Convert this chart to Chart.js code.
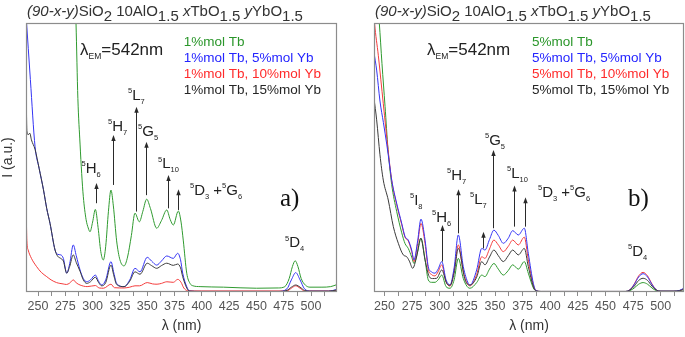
<!DOCTYPE html>
<html>
<head>
<meta charset="utf-8">
<script src="https://cdn.jsdelivr.net/npm/chart.js@4.4.1/dist/chart.umd.min.js"></script>
<style>
  html, body { margin: 0; padding: 0; background: #fff; }
  #wrap { position: relative; width: 685px; height: 337px; overflow: hidden; }
  #wrap canvas { position: absolute; top: 0; }
</style>
</head>
<body>
<div id="wrap">
  <canvas id="chartA" width="345" height="337" style="left:0;width:345px;height:337px"></canvas>
  <canvas id="chartB" width="340" height="337" style="left:345px;width:340px;height:337px"></canvas>
</div>
<script>
// --- DATA ---
const xTickLabels = [250, 275, 300, 325, 350, 375, 400, 425, 450, 475, 500];

const seriesA = ['1%mol Tb', '1%mol Tb, 5%mol Yb', '1%mol Tb, 10%mol Yb', '1%mol Tb, 15%mol Yb'];
const seriesB = ['5%mol Tb', '5%mol Tb, 5%mol Yb', '5%mol Tb, 10%mol Yb', '5%mol Tb, 15%mol Yb'];

// panel a) 1%mol Tb
const aGreenNm = [283, 284.8, 286.5, 288.5, 290, 291.5, 294, 296, 297.6, 300, 302.5, 305, 307.5, 309.8, 312, 314.5, 316.8, 319, 322, 325, 328.8, 332, 335.5, 338.8, 342.8, 346, 349.5, 353, 358.7, 363, 367.9, 371, 373.9, 378.5, 381, 383, 386.2, 389.2, 392, 398.4, 420, 450, 470, 476, 480, 483, 485.5, 488, 491, 495, 499, 510, 518, 524];
const aGreenI = [125, 100, 72, 55, 44, 35.4, 27, 23.8, 22.4, 26, 30.7, 24, 15, 11.9, 17, 30, 37.9, 32, 19, 12, 9.7, 13, 21, 29.3, 26.1, 30, 34.5, 31, 23.7, 26.5, 30.5, 27, 24.9, 30.1, 26, 19.3, 7, 3.2, 2.3, 2.0, 1.8, 1.4, 1.5, 2.0, 5, 9.5, 11.6, 9.5, 5, 2.5, 1.8, 1.8, 2, 2.8];

const aBlueNm = [239.2, 243, 247.3, 251, 255, 258, 261, 265.6, 268, 270.8, 273.2, 276.3, 279, 282.3, 285, 288.5, 291.5, 294.6, 298, 302.5, 305.5, 308.3, 312, 316.8, 319.5, 322, 328.8, 334, 338.8, 343.4, 350, 354, 358.7, 363, 367.9, 373.9, 377.9, 380.5, 382.5, 386.2, 389, 400, 470, 478, 482, 486, 490, 494, 500, 516, 524];
const aBlueI = [102, 79, 54, 46, 38, 31, 25.5, 15.6, 14, 13.8, 12.5, 7.0, 10.5, 17.5, 13.5, 8.2, 5, 3.8, 4.5, 6.3, 4, 2.6, 4.5, 11.3, 7, 3.2, 2.0, 4.5, 8.8, 7.5, 12.9, 11.5, 10, 11.5, 13.4, 12.5, 14.4, 12, 7, 2, 0.3, 0.2, 0.2, 1.2, 4.5, 7.2, 4.5, 1.2, 0.3, 0.3, 1.0];

const aRedNm = [239.2, 239.8, 241, 244, 248.8, 253, 258, 262, 267, 270, 273, 276, 279, 282.3, 285, 288.5, 295, 302.5, 306, 310, 316.8, 320, 328.8, 334, 338.8, 343, 350, 355, 359, 363, 368, 373.9, 378, 381, 383.5, 387, 400, 478, 482, 486, 490, 494, 516, 524];
const aRedI = [30, 19, 15.6, 12.5, 9.4, 7.3, 5.7, 4.5, 3.5, 3.2, 3, 2.8, 3.3, 4.5, 3.4, 2.6, 2, 2.4, 1.5, 1.4, 2.9, 1.6, 1.5, 1.8, 2.3, 2.3, 3.5, 3, 2.9, 3.2, 3.8, 3.6, 4.7, 3.6, 1.5, 0.5, 0.4, 0.4, 1.4, 2.3, 1.4, 0.4, 0.4, 0.6];

const aBlackNm = [239.2, 239.8, 241, 242.5, 244, 247.3, 251, 255, 258, 261, 265.6, 268, 270.8, 273.2, 276.3, 279, 282.3, 285, 288.5, 291.5, 294.6, 298, 302.5, 305.5, 308.3, 312, 316.8, 319.5, 322, 328.8, 334, 338.8, 343.4, 350, 354, 358.7, 363, 367.9, 373.9, 377.9, 380.5, 382.5, 386.2, 389, 400, 470, 478, 482, 486, 490, 494, 500, 516, 524];
const aBlackI = [73, 60, 58.5, 59, 56.5, 53, 46, 38, 31, 25.5, 15.6, 13.3, 12.5, 11.5, 7.0, 9.5, 13.8, 11, 7.7, 4.5, 3.2, 3.8, 5.5, 3.5, 2.3, 3.5, 10, 6, 2.8, 2.0, 4, 7.5, 6.6, 10.7, 9.8, 8.8, 9.8, 10.7, 9.9, 10.4, 9, 5.7, 1.5, 0.3, 0.2, 0.2, 0.6, 1.8, 2.6, 1.8, 0.6, 0.3, 0.3, 0.8];

// panel b) 5%mol Tb
const bGreenNm = [244.5, 245.3, 247.7, 250.5, 253.2, 256.5, 261, 265.6, 268.6, 271.5, 274.6, 276.7, 280, 283, 286.7, 289.6, 292.5, 295.7, 298.5, 301.8, 305.7, 309.3, 313, 316.8, 321.3, 325.8, 327.4, 333.4, 338, 340.9, 345, 349, 353, 357.5, 362, 366, 371.1, 376.5, 380.1, 384.7, 387.1, 392, 468, 472, 476, 480, 484, 488, 492, 496, 500, 512, 517, 521];
const bGreenI = [104, 100, 85, 69, 53, 40, 30, 22, 18, 16.2, 13, 10.6, 15, 20, 12, 4.5, 3.6, 3.6, 4.5, 6.3, 2, 1.4, 4.5, 12.5, 5, 1.6, 1.4, 3.5, 6.3, 5.7, 8.5, 10.6, 8.5, 6.3, 8, 10.1, 8.5, 11.3, 7, 1.5, 0.4, 0.2, 0.2, 0.5, 1.5, 2.9, 3.5, 2.9, 1.5, 0.5, 0.3, 0.3, 0.5, 1];

const bBlueNm = [240.5, 242.9, 245.9, 249, 252, 255, 256.5, 261, 265.6, 268.6, 271.5, 274.6, 276.7, 280, 283, 286.7, 289.6, 292.5, 295.7, 298.5, 301.8, 305.7, 309.3, 313, 316.8, 321.3, 325.8, 327.4, 333.4, 338, 340.9, 345, 349, 353, 357.5, 362, 366, 371.1, 376.5, 380.1, 384.7, 387.1, 392, 468, 472, 476, 480, 484, 488, 492, 496, 500, 512, 517, 521];
const bBlueI = [89, 82.5, 71, 63, 55, 46.1, 41.6, 33, 25.5, 20.6, 19.3, 15.6, 11.9, 19, 27.1, 19.3, 9.4, 7.5, 7, 8.5, 11.3, 4.5, 2.6, 9, 21.2, 9.4, 3.2, 2.6, 8.2, 16.2, 15.6, 19.5, 23, 21, 18.1, 20, 22.8, 21.2, 23.7, 14.4, 3.2, 0.5, 0.2, 0.2, 0.8, 2.8, 5.6, 6.8, 5.6, 2.8, 0.8, 0.3, 0.3, 0.6, 1.5];

const bRedNm = [240.5, 241, 244.4, 248.9, 253.2, 256.5, 261, 265.6, 268.6, 271.5, 274.6, 276.7, 280, 283, 286.7, 289.6, 292.5, 295.7, 298.5, 301.8, 305.7, 309.3, 313, 316.8, 321.3, 325.8, 327.4, 333.4, 338, 340.9, 345, 349, 353, 357.5, 362, 366, 371.1, 376.5, 380.1, 384.7, 387.1, 392, 468, 472, 476, 480, 484, 488, 492, 496, 500, 512, 517, 521];
const bRedI = [103, 100, 88, 70, 53, 41.6, 32.5, 25, 20.3, 19, 15, 11.3, 18, 25.5, 18, 8.5, 6.5, 6, 7.5, 10.1, 3.8, 2.2, 8, 17.5, 7.5, 2.6, 2.3, 6.5, 13.1, 12.5, 16, 19.3, 17.5, 15, 17, 19.3, 17.5, 20.4, 12, 2.5, 0.5, 0.2, 0.2, 0.8, 3, 6, 7.3, 6, 3, 0.8, 0.3, 0.3, 0.5, 1.2];

const bBlackNm = [240.5, 242.9, 245.9, 248.9, 253.4, 258, 262.5, 267, 270.1, 272.5, 275.5, 279, 282.8, 286.7, 290.5, 293.5, 297.2, 301.8, 306.3, 309.3, 313, 316.8, 322.9, 327.4, 333.4, 338, 340.9, 345, 349, 353, 357.5, 362, 366, 371.1, 376.5, 380.1, 384.7, 387.1, 392, 468, 472, 476, 480, 484, 488, 492, 496, 500, 512, 517, 521];
const bBlackI = [72, 64, 51, 41.6, 34.2, 24.3, 18.1, 13.8, 13.1, 11.5, 8.8, 13, 20, 11.9, 5.7, 5, 5.1, 8.2, 3.2, 2.5, 7, 16.2, 4.5, 2.6, 5.5, 11.3, 10.1, 13, 15.6, 13.5, 11.3, 13.5, 15.6, 13.8, 16.2, 9.5, 2, 0.4, 0.2, 0.2, 0.7, 2.2, 4.3, 5.1, 4.3, 2.2, 0.7, 0.3, 0.3, 0.5, 1];

// --- STYLE ---
const FONT = '"Liberation Sans", Arial, sans-serif';
const COLORS = ['#2f9a2f', '#3434f4', '#f43c3c', '#3a3a3a'];
const TEXT_COLORS = ['#2a962a', '#2424ff', '#ff2a2a', '#262626'];
const ORDER = [4, 2, 3, 1];   // black on top, green at the back

const TITLE = [['(90-x-y)', 'it'], ['SiO', ''], ['2', 'low'], [' 10AlO', ''], ['1.5', 'low'], [' ', ''], ['x', 'it'], ['TbO', ''], ['1.5', 'low'], [' ', ''], ['y', 'it'], ['YbO', ''], ['1.5', 'low']];
const LAMBDA = [['λ', ''], ['EM', 'sub'], ['=542nm', '']];

function lvl(sym, sub) { return [['5', 'sup'], [sym, ''], [sub, 'sub']]; }

// labels: [parts, nm, intensity]; arrows: [nm, from, to]
const labelsA = [
  [lvl('H', '6'), 289.8, 44.2], [lvl('H', '7'), 314.1, 59.9], [lvl('L', '7'), 332.4, 71.4],
  [lvl('G', '5'), 341.6, 58], [lvl('L', '10'), 359.9, 46],
  [lvl('D', '3').concat([[' +', '']], lvl('G', '6')), 389.2, 36], [lvl('D', '4'), 476.2, 16.6]
];
const arrowsA = [[303, 33, 40.5], [318.4, 39.8, 58.4], [339.5, 29.9, 68.9], [348.6, 36, 55.9], [368.8, 31.1, 43.5], [378.5, 30.5, 38.2]];

const labelsB = [
  [lvl('I', '8'), 273.1, 32.3], [lvl('H', '6'), 293, 26], [lvl('H', '7'), 306.6, 41.6],
  [lvl('L', '7'), 327.4, 32.7], [lvl('G', '5'), 340.9, 54.6], [lvl('L', '10'), 360.9, 42.3],
  [lvl('D', '3').concat([[' +', '']], lvl('G', '6')), 388.9, 35.3], [lvl('D', '4'), 470.3, 13.4]
];
const arrowsB = [[347.9, 23.7, 52.8], [301.8, 11.3, 24.9], [316.8, 21.8, 38.2], [339.4, 16.2, 22.4], [367.5, 24.3, 39.6], [377.1, 24.3, 35.2]];

function richText(ctx, x, y, parts, size, color) {
  let cx = x;
  ctx.fillStyle = color;
  ctx.textAlign = 'left';
  ctx.textBaseline = 'alphabetic';
  for (const [s, kind] of parts) {
    let fs = size, dy = 0, style = '';
    if (kind === 'sup') { fs = size * 0.5; dy = -size * 0.45; }
    else if (kind === 'sub') { fs = size * 0.5; dy = size * 0.25; }
    else if (kind === 'low') { dy = size * 0.33; }
    else if (kind === 'it') { style = 'italic '; }
    ctx.font = style + fs + 'px ' + FONT;
    ctx.fillText(s, cx, y + dy);
    cx += ctx.measureText(s).width;
  }
}

function drawArrow(ctx, px, y0, y1) {
  const x = Math.round(px) + 0.5;
  ctx.strokeStyle = '#2a2a2a';
  ctx.fillStyle = '#2a2a2a';
  ctx.lineWidth = 1;
  ctx.beginPath();
  ctx.moveTo(x, y0);
  ctx.lineTo(x, y1 + 4);
  ctx.stroke();
  ctx.beginPath();
  ctx.moveTo(x, y1);
  ctx.lineTo(x - 2.2, y1 + 6);
  ctx.lineTo(x + 2.2, y1 + 6);
  ctx.closePath();
  ctx.fill();
}

// frame, title, legend texts and transition labels
const panelPlugin = {
  id: 'panel',
  afterDraw(chart, args, opts) {
    const { ctx, chartArea: a, scales: { x, y } } = chart;
    ctx.save();
    ctx.strokeStyle = '#8c8c8c';
    ctx.lineWidth = 1.2;
    ctx.strokeRect(a.left + 0.5, a.top + 0.5, a.right - a.left - 1, a.bottom - a.top - 1);

    richText(ctx, a.left + 1, 16, TITLE, 15, '#333');
    richText(ctx, x.getPixelForValue(288.5), y.getPixelForValue(88.1), LAMBDA, 17, '#222');

    const legendY = [91.3, 85.5, 79.6, 73.6];
    chart.data.datasets.forEach((ds, i) => {
      ctx.font = '13.5px ' + FONT;
      ctx.fillStyle = TEXT_COLORS[i];
      ctx.textAlign = 'left';
      ctx.fillText(ds.label, x.getPixelForValue(383.5), y.getPixelForValue(legendY[i]));
    });

    opts.arrows.forEach(([nm, v0, v1]) => drawArrow(ctx, x.getPixelForValue(nm), y.getPixelForValue(v0), y.getPixelForValue(v1)));
    opts.labels.forEach(([parts, nm, v]) => richText(ctx, x.getPixelForValue(nm), y.getPixelForValue(v), parts, 15, '#222'));

    ctx.font = '25px "Liberation Serif", "Times New Roman", serif';
    ctx.fillStyle = '#111';
    ctx.fillText(opts.letter, x.getPixelForValue(opts.letterAt[0]), y.getPixelForValue(opts.letterAt[1]));
    ctx.restore();
  }
};

function makeChart(id, names, series, xMin, xMax, yWidth, padRight, panel, yTitle) {
  const datasets = series.map(([nm, inten], i) => ({
    label: names[i],
    data: nm.map((v, k) => ({ x: v, y: inten[k] })),
    borderColor: COLORS[i],
    borderWidth: 1,
    pointRadius: 0,
    fill: false,
    cubicInterpolationMode: 'monotone',
    order: ORDER[i]
  }));
  return new Chart(document.getElementById(id), {
    type: 'line',
    data: { datasets },
    plugins: [panelPlugin],
    options: {
      responsive: false,
      animation: false,
      devicePixelRatio: 1,
      layout: { padding: { left: 0, top: 23, right: padRight, bottom: 0 } },
      plugins: { legend: { display: false }, tooltip: { enabled: false }, panel },
      scales: {
        x: {
          type: 'linear', min: xMin, max: xMax,
          afterFit: (s) => { s.height = 45; },
          border: { display: false },
          grid: { drawOnChartArea: false, drawTicks: true, tickLength: 4, color: '#8c8c8c' },
          ticks: {
            stepSize: 12.5, includeBounds: false, autoSkip: false, maxRotation: 0, padding: 3,
            color: '#555', font: { family: FONT, size: 12.5 },
            callback: (v) => (xTickLabels.includes(v) ? String(v) : '')
          },
          title: { display: true, text: 'λ (nm)', color: '#333', font: { family: FONT, size: 14 }, padding: { top: 0, bottom: 2 } }
        },
        y: {
          min: 0, max: 100,
          afterFit: (s) => { s.width = yWidth; },
          border: { display: false },
          grid: { display: false },
          ticks: { display: false },
          title: { display: yTitle, text: 'I (a.u.)', color: '#333', font: { family: FONT, size: 14 }, padding: 0 }
        }
      }
    }
  });
}

makeChart('chartA', seriesA,
  [[aGreenNm, aGreenI], [aBlueNm, aBlueI], [aRedNm, aRedI], [aBlackNm, aBlackI]],
  239, 523.8, 26, 8,
  { labels: labelsA, arrows: arrowsA, letter: 'a)', letterAt: [471.6, 32] }, true);

makeChart('chartB', seriesB,
  [[bGreenNm, bGreenI], [bBlueNm, bBlueI], [bRedNm, bRedI], [bBlackNm, bBlackI]],
  240.5, 521, 29, 1,
  { labels: labelsB, arrows: arrowsB, letter: 'b)', letterAt: [470.3, 32] }, false);
</script>
</body>
</html>
